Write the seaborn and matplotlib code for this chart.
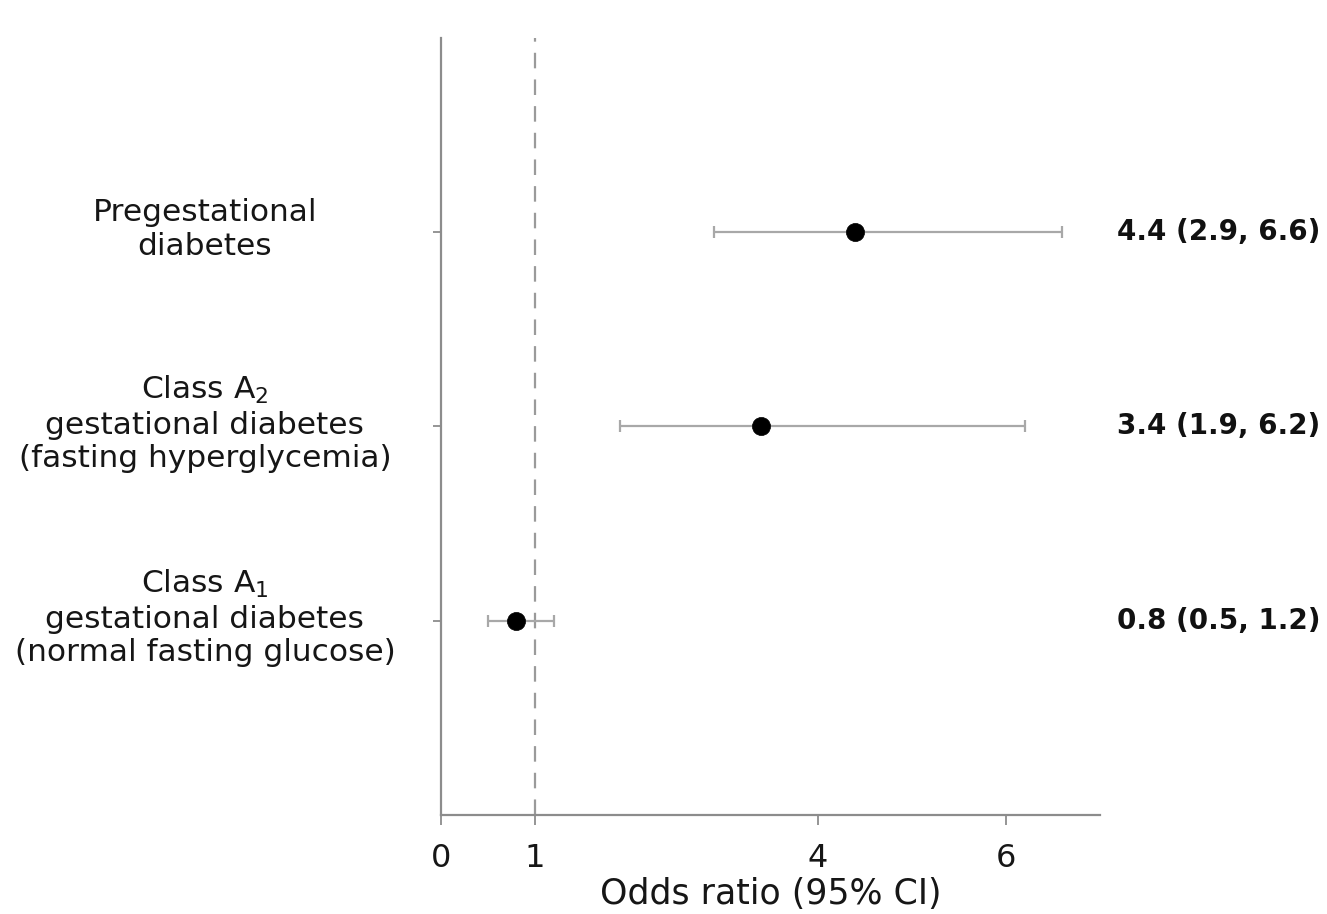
import numpy as np
import pandas as pd
import matplotlib
matplotlib.use("Agg")
import matplotlib.pyplot as plt
import matplotlib.transforms as mtransforms
import seaborn as sns

# ---- data ----
groups = ["Pregestational\ndiabetes",
          "Class A$_2$\ngestational diabetes\n(fasting hyperglycemia)",
          "Class A$_1$\ngestational diabetes\n(normal fasting glucose)"]
odds_ratio = [4.4, 3.4, 0.8]
ci_low = [2.9, 1.9, 0.5]
ci_high = [6.6, 6.2, 1.2]
xticks = [0, 1, 4, 6]
x_label = "Odds ratio (95% CI)"

df = pd.DataFrame({"group": groups, "or": odds_ratio, "lo": ci_low, "hi": ci_high})
df["text"] = [f"{o} ({l}, {h})" for o, l, h in zip(df["or"], df["lo"], df["hi"])]

sns.set_theme(style="white")
plt.rcParams["font.family"] = ["DejaVu Sans"]

fig = plt.figure(figsize=(13.27, 9.14), dpi=100)
ax = fig.add_axes([441 / 1327, 1 - 815 / 914, (1100 - 441) / 1327, (815 - 38) / 914])

grey = "#8c8c8c"
txt = "#161616"
ypos = np.arange(len(df))

# reference line at OR = 1
ax.axvline(1, color="#9a9a9a", lw=1.6, ls=(0, (7, 5)), zorder=1)

# confidence intervals
ax.errorbar(df["or"], ypos,
            xerr=[df["or"] - df["lo"], df["hi"] - df["or"]],
            fmt="none", ecolor="#a8a8a8", elinewidth=1.6, capsize=4, capthick=1.6, zorder=2)

# point estimates
sns.scatterplot(x=df["or"], y=ypos, color="black", s=170, edgecolor="black",
                linewidth=0.5, ax=ax, zorder=3, legend=False)

ax.set_xlim(0, 7)
ax.set_ylim(3.0, -1.0)
ax.set_xticks(xticks)
ax.set_xticklabels([str(t) for t in xticks], fontsize=23, color=txt)
ax.set_yticks(ypos)
ax.set_yticklabels(df["group"], fontsize=22.5, ha="center", multialignment="center",
                   color=txt, linespacing=1.2)
ax.tick_params(axis="y", which="major", length=6, width=1.3, color=grey, pad=164, left=True)
ax.tick_params(axis="x", which="major", length=7, width=1.3, color=grey, pad=13, bottom=True)
shift = mtransforms.ScaledTranslation(0, 6 / 72, fig.dpi_scale_trans)
for lab in ax.get_yticklabels():
    lab.set_transform(lab.get_transform() + shift)

ax.set_xlabel(x_label, fontsize=25, color=txt)
ax.xaxis.set_label_coords(0.5, -0.080)
ax.xaxis.label.set_va("top")
ax.set_ylabel("")

for side in ["top", "right"]:
    ax.spines[side].set_visible(False)
for side in ["left", "bottom"]:
    ax.spines[side].set_color(grey)
    ax.spines[side].set_linewidth(1.6)

# right-hand text column
trans = mtransforms.blended_transform_factory(ax.transAxes, ax.transData)
for y, t in zip(ypos, df["text"]):
    ax.text(1.334, y, t, transform=trans, ha="right", va="center",
            fontsize=20, fontweight="bold", color="#111111", clip_on=False)

fig.savefig("out.png", dpi=100)
